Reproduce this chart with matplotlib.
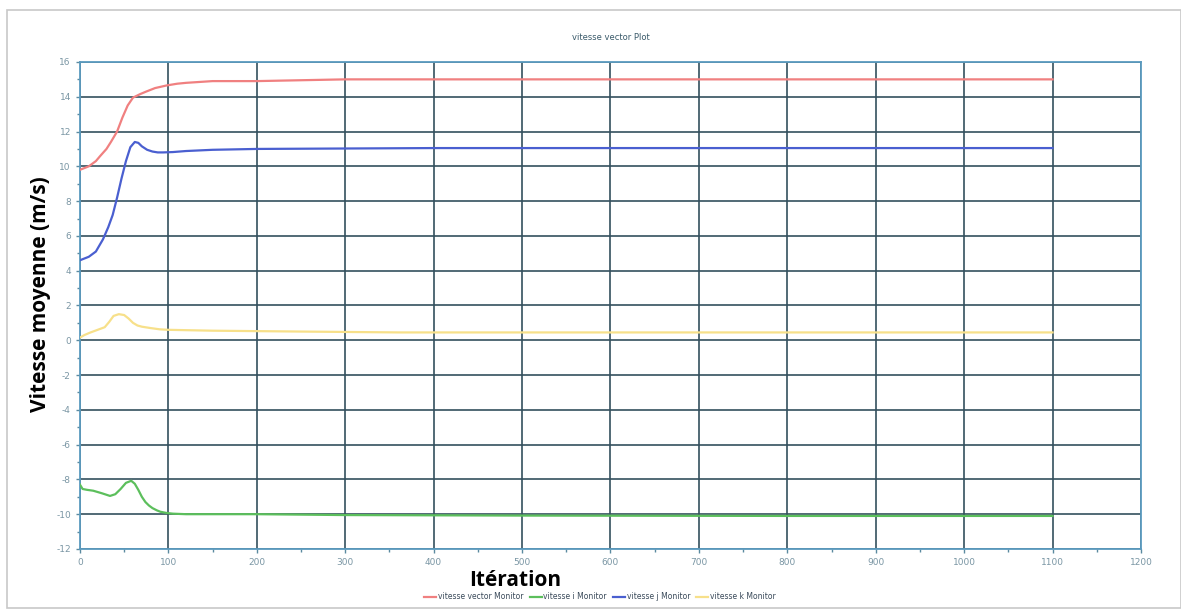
import matplotlib.pyplot as plt
from matplotlib.patches import Rectangle
from matplotlib.ticker import MultipleLocator

plt.rcParams['axes.unicode_minus'] = False

# iterations / values
it_vector = [0, 10, 18, 23, 30, 35, 42, 48, 54, 60, 68, 75, 85, 98, 110, 120, 135, 150, 200, 300, 400, 600, 800, 1000, 1100]
vitesse_vector = [9.8, 10.0, 10.3, 10.6, 11.0, 11.4, 12.0, 12.8, 13.5, 13.95, 14.15, 14.3, 14.5, 14.65, 14.75, 14.8, 14.85, 14.9, 14.9, 15.0, 15.0, 15.0, 15.0, 15.0, 15.0]

it_i = [0, 3, 8, 15, 25, 34, 40, 46, 52, 58, 62, 66, 70, 74, 78, 82, 87, 91, 98, 105, 120, 150, 200, 300, 500, 800, 1100]
vitesse_i = [-8.3, -8.55, -8.6, -8.65, -8.8, -8.95, -8.85, -8.55, -8.2, -8.08, -8.25, -8.6, -9.0, -9.3, -9.5, -9.65, -9.78, -9.86, -9.93, -9.97, -10.0, -10.0, -10.0, -10.05, -10.08, -10.1, -10.1]

it_j = [0, 10, 18, 26, 32, 37, 42, 47, 52, 57, 62, 66, 70, 76, 82, 88, 94, 105, 120, 150, 200, 400, 700, 1100]
vitesse_j = [4.6, 4.8, 5.1, 5.8, 6.5, 7.2, 8.2, 9.3, 10.3, 11.1, 11.4, 11.35, 11.15, 10.95, 10.85, 10.8, 10.8, 10.82, 10.88, 10.95, 11.0, 11.05, 11.05, 11.05]

it_k = [0, 5, 12, 20, 28, 33, 38, 44, 50, 55, 60, 65, 70, 80, 90, 100, 150, 250, 362, 600, 1100]
vitesse_k = [0.15, 0.3, 0.45, 0.6, 0.75, 1.05, 1.4, 1.5, 1.45, 1.25, 1.0, 0.85, 0.78, 0.7, 0.63, 0.6, 0.55, 0.5, 0.45, 0.45, 0.45]

labels = ['vitesse vector Monitor', 'vitesse i Monitor', 'vitesse j Monitor', 'vitesse k Monitor']
colors = ['#f08080', '#5cbf5c', '#4a5fd0', '#f7e08a']

fig = plt.figure(figsize=(11.81, 6.16), dpi=100)
ax = fig.add_axes([0.0677, 0.1088, 0.8984, 0.7906])

# cadre gris autour de la figure
fig.patches.append(Rectangle((7 / 1181, 8 / 616), 1 - 7 / 1181, 1 - 18 / 616,
                             transform=fig.transFigure, fill=False,
                             edgecolor='#c8c8c8', lw=1.2))

series = [(it_vector, vitesse_vector), (it_i, vitesse_i), (it_j, vitesse_j), (it_k, vitesse_k)]
for (x, y), lab, c in zip(series, labels, colors):
    ax.plot(x, y, color=c, lw=1.6, label=lab, zorder=3)

ax.set_xlim(0, 1200)
ax.set_ylim(-12, 16)
ax.xaxis.set_major_locator(MultipleLocator(100))
ax.xaxis.set_minor_locator(MultipleLocator(50))
ax.yaxis.set_major_locator(MultipleLocator(2))
ax.yaxis.set_minor_locator(MultipleLocator(1))

ax.grid(True, which='major', color='#34505e', lw=1.2, zorder=1)
for s in ax.spines.values():
    s.set_color('#5b9bbf')
    s.set_linewidth(1.3)
ax.tick_params(which='both', colors='#5b8aa0', labelsize=6.5, length=3, width=1)
ax.tick_params(which='minor', length=2)
for lbl in ax.get_xticklabels() + ax.get_yticklabels():
    lbl.set_color('#7a96a4')

ax.set_title('vitesse vector Plot', fontsize=6, color='#3a5a6a', pad=16)
fig.text(0.0345, 0.522, 'Vitesse moyenne (m/s)', rotation=90, fontsize=15,
         fontweight='bold', ha='center', va='center', family='Open Sans')
fig.text(0.436, 0.058, 'Itération', fontsize=15, fontweight='bold',
         ha='center', va='center', family='Open Sans')

fig.legend(loc='center', bbox_to_anchor=(0.508, 0.031), ncol=4, frameon=False,
           fontsize=5.5, handlelength=1.6, handletextpad=0.2, columnspacing=0.8,
           labelcolor='#3a4a5a')

plt.savefig('out.png', dpi=100)
